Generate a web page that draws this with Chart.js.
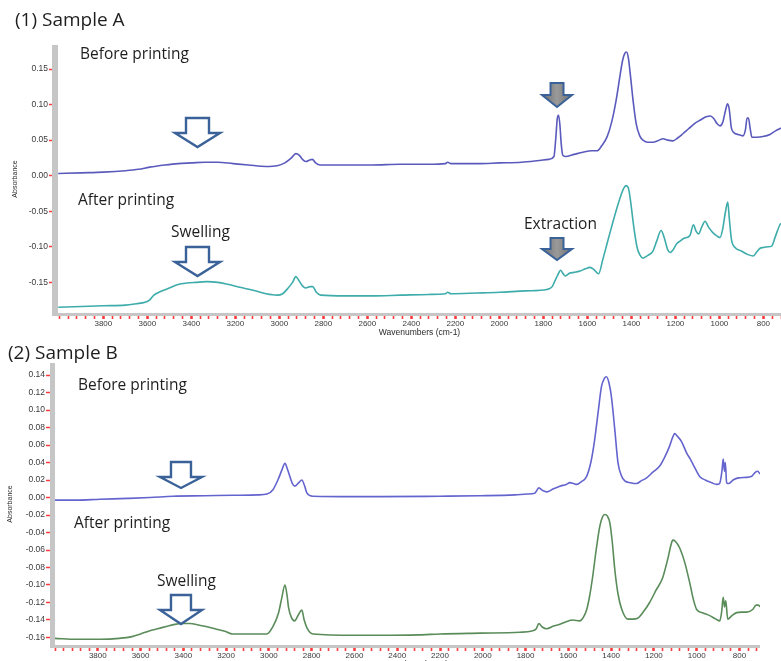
<!DOCTYPE html>
<html>
<head>
<meta charset="utf-8">
<script src="https://cdn.jsdelivr.net/npm/chart.js@4.4.1/dist/chart.umd.min.js"></script>
<style>
  html, body { margin: 0; padding: 0; background: #fff; overflow: hidden; width: 781px; height: 661px; }
  #wrap { position: relative; width: 781px; height: 661px; overflow: hidden; }
  canvas { position: absolute; left: 0; }
  .t { position: absolute; font-family: "Open Sans", sans-serif; color: #1e1e1e; white-space: nowrap; line-height: 1; }
  .h { font-size: 19px; }
  .n { font-size: 15.5px; }
</style>
</head>
<body>
<div id="wrap">
  <canvas id="chartA" width="781" height="338" style="top:0"></canvas>
  <canvas id="chartB" width="781" height="330" style="top:340px"></canvas>

  <div class="t h" style="left:15px;top:10px">(1) Sample A</div>
  <div class="t n" style="left:80px;top:46px">Before printing</div>
  <div class="t n" style="left:78px;top:192px">After printing</div>
  <div class="t n" style="left:171px;top:224px">Swelling</div>
  <div class="t n" style="left:524px;top:216px">Extraction</div>

  <div class="t h" style="left:8px;top:343px">(2) Sample B</div>
  <div class="t n" style="left:78px;top:377px">Before printing</div>
  <div class="t n" style="left:74px;top:515px">After printing</div>
  <div class="t n" style="left:157px;top:573px">Swelling</div>
</div>

<script>
// ---- Spectra: wavenumber (cm-1) and absorbance ----

// Sample A, before printing
const aBeforeWn  = [4005,3900,3800,3700,3640,3590,3520,3460,3400,3340,3280,3210,3140,3060,3010,2975,2945,2925,2910,2895,2880,2862,2850,2835,2815,2700,2580,2450,2320,2245,2235,2220,2100,2000,1900,1830,1775,1752,1743,1737,1731,1725,1719,1712,1700,1660,1620,1580,1556,1535,1510,1490,1470,1452,1440,1430,1422,1414,1404,1392,1378,1362,1347,1325,1302,1280,1256,1235,1211,1190,1166,1140,1110,1088,1060,1040,1025,1010,997,985,972,963,955,946,936,915,893,882,874,868,860,852,830,802,770,745,720];
const aBeforeAbs = [0.003,0.004,0.005,0.007,0.009,0.012,0.015,0.017,0.018,0.019,0.019,0.017,0.015,0.013,0.014,0.018,0.025,0.031,0.029,0.023,0.020,0.022,0.023,0.018,0.015,0.015,0.015,0.016,0.016,0.017,0.019,0.017,0.017,0.018,0.019,0.021,0.023,0.027,0.055,0.080,0.085,0.072,0.045,0.029,0.027,0.030,0.033,0.035,0.035,0.042,0.055,0.075,0.105,0.140,0.162,0.172,0.174,0.166,0.140,0.105,0.073,0.056,0.050,0.047,0.047,0.049,0.052,0.050,0.049,0.053,0.059,0.066,0.074,0.078,0.083,0.084,0.080,0.073,0.070,0.075,0.092,0.101,0.093,0.068,0.061,0.058,0.056,0.064,0.081,0.081,0.066,0.054,0.054,0.055,0.058,0.063,0.067];

// Sample A, after printing
const aAfterWn  = [4005,3900,3800,3700,3650,3610,3590,3570,3540,3500,3460,3420,3380,3330,3280,3230,3180,3120,3060,3010,2985,2960,2940,2925,2912,2895,2880,2860,2848,2832,2812,2700,2580,2450,2320,2245,2235,2220,2100,2000,1880,1784,1760,1746,1735,1722,1712,1700,1680,1660,1633,1610,1588,1570,1549,1530,1511,1490,1470,1450,1435,1424,1414,1404,1390,1374,1360,1347,1325,1302,1285,1265,1250,1235,1224,1210,1195,1179,1160,1134,1118,1106,1095,1080,1065,1050,1030,1010,997,985,972,962,955,945,929,900,870,846,830,815,800,780,762,745,725,720];
const aAfterAbs = [-0.185,-0.184,-0.183,-0.182,-0.180,-0.178,-0.175,-0.168,-0.163,-0.158,-0.153,-0.151,-0.150,-0.149,-0.150,-0.153,-0.157,-0.161,-0.166,-0.168,-0.166,-0.158,-0.150,-0.142,-0.147,-0.155,-0.158,-0.156,-0.156,-0.164,-0.168,-0.169,-0.169,-0.168,-0.167,-0.166,-0.164,-0.166,-0.165,-0.164,-0.162,-0.160,-0.156,-0.147,-0.140,-0.133,-0.137,-0.141,-0.137,-0.136,-0.134,-0.131,-0.129,-0.132,-0.138,-0.118,-0.096,-0.072,-0.050,-0.030,-0.018,-0.014,-0.017,-0.035,-0.070,-0.101,-0.112,-0.116,-0.112,-0.106,-0.092,-0.077,-0.088,-0.104,-0.108,-0.104,-0.096,-0.092,-0.088,-0.084,-0.069,-0.078,-0.082,-0.072,-0.064,-0.072,-0.080,-0.085,-0.087,-0.075,-0.050,-0.037,-0.060,-0.090,-0.101,-0.106,-0.111,-0.113,-0.107,-0.102,-0.101,-0.100,-0.099,-0.085,-0.069,-0.067];

// Sample B, before printing
const bBeforeWn  = [4000,3900,3790,3660,3556,3449,3300,3168,3050,3009,2981,2958,2940,2925,2914,2902,2890,2878,2860,2846,2834,2822,2794,2600,2481,2200,2014,1850,1794,1757,1738,1720,1701,1670,1640,1610,1593,1575,1561,1540,1515,1495,1477,1461,1445,1432,1422,1410,1399,1383,1368,1352,1336,1310,1281,1260,1234,1205,1173,1150,1127,1112,1103,1090,1071,1045,1030,1017,1000,986,960,930,908,893,882,876,870,866,860,850,830,805,770,745,725,715,704];
const bBeforeAbs = [-0.003,-0.003,-0.002,-0.001,0.000,0.0015,0.002,0.0026,0.003,0.004,0.009,0.020,0.031,0.039,0.033,0.024,0.016,0.013,0.017,0.020,0.014,0.005,0.0015,0.001,0.001,0.0015,0.002,0.003,0.004,0.005,0.011,0.008,0.0065,0.010,0.013,0.015,0.017,0.016,0.015,0.018,0.024,0.040,0.066,0.097,0.127,0.136,0.138,0.131,0.116,0.078,0.040,0.025,0.019,0.017,0.016,0.019,0.0225,0.029,0.036,0.046,0.0585,0.069,0.073,0.070,0.064,0.050,0.044,0.038,0.030,0.024,0.020,0.017,0.015,0.016,0.030,0.044,0.030,0.040,0.017,0.016,0.020,0.0225,0.023,0.024,0.029,0.030,0.027];

// Sample B, after printing
const bAfterWn  = [4000,3900,3790,3700,3640,3600,3560,3520,3480,3440,3405,3370,3325,3285,3245,3205,3170,3100,3010,2980,2955,2940,2925,2915,2908,2895,2880,2862,2846,2835,2822,2794,2600,2481,2300,2201,2014,1827,1771,1750,1738,1722,1701,1670,1640,1610,1580,1547,1530,1514,1500,1486,1470,1453,1440,1430,1418,1406,1395,1383,1368,1350,1322,1300,1276,1250,1220,1190,1159,1135,1120,1112,1100,1080,1055,1033,1015,1000,970,939,910,892,883,876,870,864,855,835,813,790,766,738,722,712,704];
const bAfterAbs = [-0.161,-0.162,-0.162,-0.161,-0.159,-0.156,-0.1525,-0.150,-0.1475,-0.145,-0.144,-0.144,-0.146,-0.148,-0.1506,-0.153,-0.156,-0.156,-0.156,-0.147,-0.132,-0.115,-0.100,-0.112,-0.126,-0.137,-0.141,-0.134,-0.1286,-0.140,-0.149,-0.156,-0.1575,-0.1575,-0.157,-0.156,-0.155,-0.154,-0.1525,-0.150,-0.144,-0.148,-0.150,-0.147,-0.145,-0.142,-0.140,-0.141,-0.137,-0.128,-0.112,-0.090,-0.060,-0.033,-0.022,-0.0194,-0.021,-0.029,-0.050,-0.082,-0.110,-0.128,-0.139,-0.139,-0.138,-0.131,-0.120,-0.106,-0.0916,-0.070,-0.054,-0.0487,-0.050,-0.0574,-0.075,-0.097,-0.117,-0.128,-0.132,-0.135,-0.139,-0.141,-0.130,-0.114,-0.125,-0.118,-0.139,-0.135,-0.1316,-0.131,-0.131,-0.128,-0.123,-0.123,-0.125];

// ---- Axis ticks ----
const xMajorTicks = [3800,3600,3400,3200,3000,2800,2600,2400,2200,2000,1800,1600,1400,1200,1000,800];
const yTicksA = [0.15,0.10,0.05,0.00,-0.05,-0.10,-0.15];
const yTicksB = [0.14,0.12,0.10,0.08,0.06,0.04,0.02,0.00,-0.02,-0.04,-0.06,-0.08,-0.10,-0.12,-0.14,-0.16];

// minor tick marks every 40 cm-1 along the wavenumber axis
const xMinorTicks = [];
for (let v = 720; v <= 4000; v += 40) xMinorTicks.push(v);

Chart.defaults.font.family = '"Liberation Sans", Arial, sans-serif';

function pairs(xs, ys) { return xs.map((x, i) => ({ x: x, y: ys[i] })); }

// gray axis bars along the left and bottom edges of the plot
const axisBars = {
  id: 'axisBars',
  afterDraw(chart, args, o) {
    const { ctx, chartArea: a } = chart;
    ctx.save();
    ctx.fillStyle = o.color;
    ctx.fillRect(a.left - o.left, a.top, o.left, a.bottom - a.top + o.bottom);
    ctx.fillRect(a.left - o.left, a.bottom, a.right - a.left + o.left, o.bottom);
    ctx.restore();
  }
};

// block arrows pointing down at spectral features
const arrowMarks = {
  id: 'arrowMarks',
  afterDatasetsDraw(chart, args, o) {
    const { ctx, scales: { x, y } } = chart;
    (o.marks || []).forEach(m => {
      const tx = x.getPixelForValue(m.wn);
      const ty = y.getPixelForValue(m.abs);
      ctx.save();
      ctx.beginPath();
      ctx.moveTo(tx - m.shaft / 2, ty - m.h);
      ctx.lineTo(tx + m.shaft / 2, ty - m.h);
      ctx.lineTo(tx + m.shaft / 2, ty - m.headH);
      ctx.lineTo(tx + m.head / 2, ty - m.headH);
      ctx.lineTo(tx, ty);
      ctx.lineTo(tx - m.head / 2, ty - m.headH);
      ctx.lineTo(tx - m.shaft / 2, ty - m.headH);
      ctx.closePath();
      if (m.solid) {
        const g = ctx.createLinearGradient(tx - m.head / 2, 0, tx + m.head / 2, 0);
        g.addColorStop(0, '#6e6e6e');
        g.addColorStop(0.5, '#9a9a9a');
        g.addColorStop(1, '#6e6e6e');
        ctx.fillStyle = g;
      } else {
        ctx.fillStyle = '#ffffff';
      }
      ctx.fill();
      ctx.lineJoin = 'miter';
      ctx.lineWidth = m.lw;
      ctx.strokeStyle = '#3a6298';
      ctx.stroke();
      ctx.restore();
    });
  }
};

function makeChart(id, cfg) {
  return new Chart(document.getElementById(id), {
    type: 'line',
    data: { datasets: cfg.series.map(s => ({
      data: pairs(s.wn, s.abs),
      borderColor: s.color,
      borderWidth: 1.6,
      pointRadius: 0,
      cubicInterpolationMode: 'monotone',
      fill: false
    })) },
    options: {
      responsive: false,
      animation: false,
      devicePixelRatio: 1,
      layout: { padding: cfg.padding },
      plugins: {
        legend: { display: false },
        tooltip: { enabled: false },
        axisBars: cfg.bars,
        arrowMarks: { marks: cfg.arrows }
      },
      scales: {
        x: {
          type: 'linear',
          reverse: true,
          min: cfg.xMin,
          max: cfg.xMax,
          afterFit: s => { s.height = cfg.xHeight; },
          afterBuildTicks: s => {
            s.ticks = xMinorTicks.filter(v => v >= cfg.xMin && v <= cfg.xMax).map(v => ({ value: v }));
          },
          ticks: {
            autoSkip: false,
            maxRotation: 0,
            minRotation: 0,
            padding: 0,
            color: '#3a3a3a',
            font: { size: 8 },
            callback: v => xMajorTicks.includes(v) ? String(v) : ''
          },
          grid: {
            drawOnChartArea: false,
            tickLength: 6,
            tickColor: '#ff3b3b',
            tickWidth: c => (c.tick && xMajorTicks.includes(c.tick.value)) ? 2.6 : 1.6
          },
          border: { display: false },
          title: {
            display: true,
            text: 'Wavenumbers (cm-1)',
            color: '#2a2a2a',
            font: { size: 8.5 },
            padding: { top: 0, bottom: 0 }
          }
        },
        y: {
          type: 'linear',
          min: cfg.yMin,
          max: cfg.yMax,
          afterFit: s => { s.width = cfg.yWidth; },
          afterBuildTicks: s => { s.ticks = cfg.yTicks.map(v => ({ value: v })); },
          ticks: {
            padding: 1,
            color: '#3a3a3a',
            font: { size: 8.5 },
            callback: v => v.toFixed(2)
          },
          grid: {
            drawOnChartArea: false,
            tickLength: 9,
            tickColor: '#ff3b3b',
            tickWidth: 1.5
          },
          border: { display: false },
          title: {
            display: true,
            text: 'Absorbance',
            color: '#2a2a2a',
            font: { size: 7 },
            padding: { top: cfg.yTitlePad, bottom: 0 }
          }
        }
      }
    },
    plugins: [axisBars, arrowMarks]
  });
}

makeChart('chartA', {
  series: [
    { wn: aBeforeWn, abs: aBeforeAbs, color: '#5a5abd' },
    { wn: aAfterWn,  abs: aAfterAbs,  color: '#3eacab' }
  ],
  xMin: 720, xMax: 4006,
  yMin: -0.1931, yMax: 0.1838,
  yTicks: yTicksA,
  yWidth: 58, xHeight: 25, yTitlePad: 11,
  padding: { top: 45, right: 0, bottom: 0, left: 0 },
  bars: { color: '#c6c6c6', left: 6, bottom: 3 },
  arrows: [
    { wn: 3372, abs: 0.0404,  h: 29, headH: 14, shaft: 23, head: 45, lw: 2.4, solid: false },
    { wn: 3372, abs: -0.1411, h: 29, headH: 14, shaft: 23, head: 45, lw: 2.4, solid: false },
    { wn: 1738, abs: 0.0966,  h: 24, headH: 12, shaft: 13, head: 30, lw: 2.0, solid: true },
    { wn: 1738, abs: -0.1186, h: 22, headH: 11, shaft: 13, head: 30, lw: 2.0, solid: true }
  ]
});

makeChart('chartB', {
  series: [
    { wn: bBeforeWn, abs: bBeforeAbs, color: '#6464cf' },
    { wn: bAfterWn,  abs: bAfterAbs,  color: '#5a8c5a' }
  ],
  xMin: 704, xMax: 4000,
  yMin: -0.1686, yMax: 0.1538,
  yTicks: yTicksB,
  yWidth: 55, xHeight: 25, yTitlePad: 6,
  padding: { top: 23, right: 21, bottom: 0, left: 0 },
  bars: { color: '#c6c6c6', left: 5, bottom: 3 },
  arrows: [
    { wn: 3411, abs: 0.0109,  h: 26, headH: 11, shaft: 20, head: 42, lw: 2.4, solid: false },
    { wn: 3411, abs: -0.1446, h: 29, headH: 14, shaft: 20, head: 42, lw: 2.4, solid: false }
  ]
});
</script>
</body>
</html>
